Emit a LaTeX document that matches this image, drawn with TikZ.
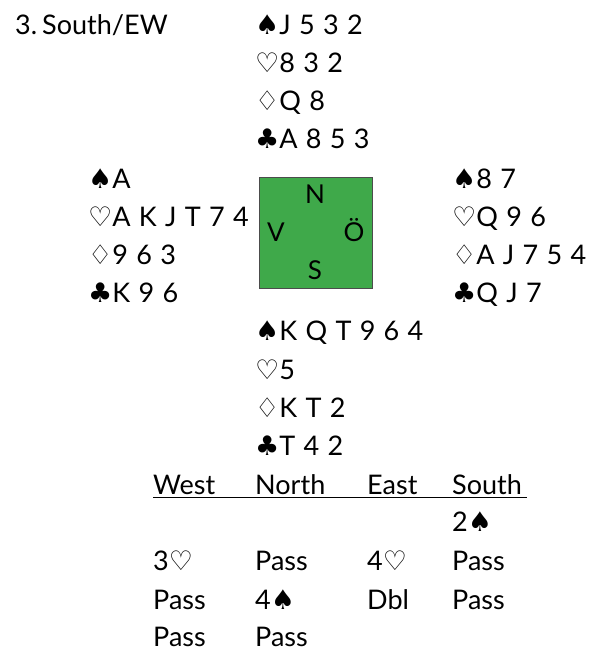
\documentclass[tikz,border=0pt]{standalone}
\usepackage{fontspec}
\setmainfont{Lato}[WordSpace=1.2]
\newfontfamily\suitfont{DejaVu Sans}
\newcommand{\mySp}{{\suitfont ♠}}
\newcommand{\myHt}{{\suitfont ♡}}
\newcommand{\myDi}{{\suitfont ♢}}
\newcommand{\myCl}{{\suitfont ♣}}
\frenchspacing
\tikzset{
  txt/.style={anchor=base west, inner sep=0pt, font=\fontsize{27}{30}\selectfont},
  dir/.style={anchor=base, inner sep=0pt, font=\fontsize{26}{28}\selectfont},
  table/.style={draw=black!70, line width=0.6pt, fill={rgb,255:red,63;green,169;blue,74}}
}
\begin{document}
\begin{tikzpicture}[x=1pt,y=-1pt]
\useasboundingbox (0,0) rectangle (591,651);
\node[txt] (title) at (15,34) {3.\hspace{5pt}South/EW};
% North
\node[txt] (ns) at (255,34) {\mySp J 5 3 2};
\node[txt] (nh) at (255,72) {\myHt 8 3 2};
\node[txt] (nd) at (255,110) {\myDi Q 8};
\node[txt] (nc) at (255,148) {\myCl A 8 5 3};
% West
\node[txt] (ws) at (88,188) {\mySp A};
\node[txt] (wh) at (88,226) {\myHt A K J T 7 4};
\node[txt] (wd) at (88,264) {\myDi 9 6 3};
\node[txt] (wc) at (88,302) {\myCl K 9 6};
% East
\node[txt] (es) at (452,188) {\mySp 8 7};
\node[txt] (eh) at (452,226) {\myHt Q 9 6};
\node[txt] (ed) at (452,264) {\myDi A J 7 5 4};
\node[txt] (ec) at (452,302) {\myCl Q J 7};
% South
\node[txt] (ss) at (255,340) {\mySp K Q T 9 6 4};
\node[txt] (sh) at (255,379) {\myHt 5};
\node[txt] (sd) at (255,417) {\myDi K T 2};
\node[txt] (sc) at (255,455) {\myCl T 4 2};
% table
\draw[table] (259,177) rectangle (372,288);
\node[dir] (dn) at (315,203) {N};
\node[dir] (dv) at (276,241) {V};
\node[dir] (de) at (354,241) {Ö};
\node[dir] (dsouth) at (315,279) {S};
% auction
\node[txt] (hw) at (153,494) {West};
\node[txt] (hn) at (255,494) {North};
\node[txt] (he) at (367,494) {East};
\node[txt] (hs) at (452,494) {South};
\coordinate (ul) at (153,497.5);
\coordinate (ur) at (527,497.5);
\draw[line width=1pt] (ul) -- (ur);
\node[txt] (a1s) at (452,531) {2\mySp};
\node[txt] (a2w) at (153,570) {3\myHt};
\node[txt] (a2n) at (255,570) {Pass};
\node[txt] (a2e) at (367,570) {4\myHt};
\node[txt] (a2s) at (452,570) {Pass};
\node[txt] (a3w) at (153,609) {Pass};
\node[txt] (a3n) at (255,609) {4\mySp};
\node[txt] (a3e) at (367,609) {Dbl};
\node[txt] (a3s) at (452,609) {Pass};
\node[txt] (a4w) at (153,646) {Pass};
\node[txt] (a4n) at (255,646) {Pass};
\end{tikzpicture}
\end{document}
